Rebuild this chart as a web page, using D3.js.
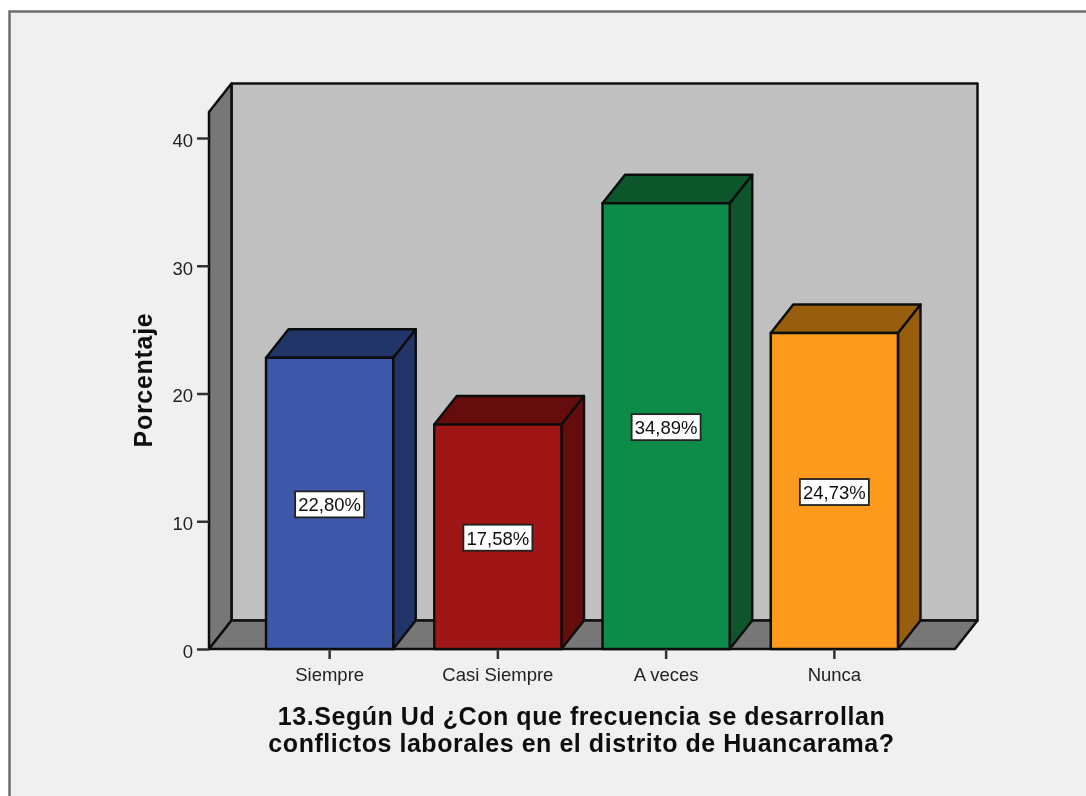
<!DOCTYPE html>
<html>
<head>
<meta charset="utf-8">
<script src="https://cdn.jsdelivr.net/npm/d3@7"></script>
<style>
html, body { margin: 0; padding: 0; background: #fff; }
svg { display: block; }
text { font-family: "Liberation Sans", Arial, sans-serif; }
</style>
</head>
<body>
<div id="container"></div>
<script>
//DATA
const categories = ['Siempre', 'Casi Siempre', 'A veces', 'Nunca']
const percentages = [22.80, 17.58, 34.89, 24.73]
const percentLabels = ['22,80%', '17,58%', '34,89%', '24,73%']
const yTicks = [0, 10, 20, 30, 40]
const frontColors = ['#3e58aa', '#a01517', '#0f8c4a', '#fb9a1e']
const darkColors = ['#233468', '#650c0e', '#08542c', '#985d11']
const xTitleLines = ['13.Según Ud ¿Con que frecuencia se desarrollan', 'conflictos laborales en el distrito de Huancarama?']

//BOX
const w = 1086
const h = 796
const left = 209
const right = 955
const floorY = 649
const depthX = 22.5
const depthY = 28.5
const topY = 112

//DEFINE SCALES
const xscale = d3.scaleBand()
    .domain(categories)
    .range([left, right])
    .paddingInner(0.244)
    .paddingOuter(0.339)

const yscale = d3.scaleLinear()
    .domain([0, 40])
    .range([floorY, 138])

const pts = p => p.map(d => d.join(',')).join(' ')

const svg = d3.select('#container')
    .append('svg')
    .attr('width', w)
    .attr('height', h)

//slight softening, the reference is an upscaled screenshot
const filter = svg.append('filter').attr('id', 'soft')
    .attr('filterUnits', 'userSpaceOnUse')
    .attr('x', 0).attr('y', 0)
    .attr('width', w).attr('height', h)
filter.append('feGaussianBlur').attr('stdDeviation', 0.6)

const root = svg.append('g').attr('filter', 'url(#soft)')

//FRAME
root.append('rect')
    .attr('x', 9.5)
    .attr('y', 11.5)
    .attr('width', w + 20)
    .attr('height', h + 20)
    .attr('fill', '#f0f0f0')
    .attr('stroke', '#6e6e6e')
    .attr('stroke-width', 2.5)

//WALLS AND FLOOR
const walls = root.append('g')
    .attr('stroke', '#111')
    .attr('stroke-width', 2.5)
    .attr('stroke-linejoin', 'round')

walls.append('polygon')
    .attr('points', pts([[left + depthX, topY - depthY], [right + depthX, topY - depthY], [right + depthX, floorY - depthY], [left + depthX, floorY - depthY]]))
    .attr('fill', '#c0c0c0')

walls.append('polygon')
    .attr('points', pts([[left, topY], [left + depthX, topY - depthY], [left + depthX, floorY - depthY], [left, floorY]]))
    .attr('fill', '#777777')

walls.append('polygon')
    .attr('points', pts([[left, floorY], [left + depthX, floorY - depthY], [right + depthX, floorY - depthY], [right, floorY]]))
    .attr('fill', '#777777')

//BARS
const bars = root.append('g')
    .selectAll('g')
    .data(categories)
    .enter()
    .append('g')
    .attr('stroke', '#111')
    .attr('stroke-width', 2.5)
    .attr('stroke-linejoin', 'round')

bars.append('polygon')
    .attr('points', (d, i) => {
        const x1 = xscale(d) + xscale.bandwidth()
        const y = yscale(percentages[i])
        return pts([[x1, y], [x1 + depthX, y - depthY], [x1 + depthX, floorY - depthY], [x1, floorY]])
    })
    .attr('fill', (d, i) => darkColors[i])

bars.append('polygon')
    .attr('points', (d, i) => {
        const x0 = xscale(d)
        const x1 = x0 + xscale.bandwidth()
        const y = yscale(percentages[i])
        return pts([[x0, y], [x0 + depthX, y - depthY], [x1 + depthX, y - depthY], [x1, y]])
    })
    .attr('fill', (d, i) => darkColors[i])

bars.append('rect')
    .attr('x', d => xscale(d))
    .attr('y', (d, i) => yscale(percentages[i]))
    .attr('width', xscale.bandwidth())
    .attr('height', (d, i) => floorY - yscale(percentages[i]))
    .attr('fill', (d, i) => frontColors[i])

//VALUE LABELS
const labels = root.append('g')
    .selectAll('g')
    .data(categories)
    .enter()
    .append('g')
    .attr('transform', (d, i) => 'translate(' + (xscale(d) + xscale.bandwidth() / 2) + ',' + (yscale(percentages[i] / 2) + 1) + ')')

labels.append('rect')
    .attr('x', -34.5)
    .attr('y', -13)
    .attr('width', 69)
    .attr('height', 26)
    .attr('fill', '#fff')
    .attr('stroke', '#222')
    .attr('stroke-width', 1.8)

labels.append('text')
    .attr('text-anchor', 'middle')
    .attr('dy', 7)
    .attr('font-size', 18.5)
    .attr('fill', '#111')
    .text((d, i) => percentLabels[i])

//GENERATE AXES
const xaxis = d3.axisBottom(xscale).tickSizeOuter(0).tickSize(10).tickPadding(8.5)
const yaxis = d3.axisLeft(yscale).tickValues(yTicks).tickSizeOuter(0).tickSize(12).tickPadding(4)

const gx = root.append('g')
    .attr('transform', 'translate(0,' + floorY + ')')
    .call(xaxis)
gx.select('.domain').remove()
gx.selectAll('line').attr('stroke', '#333').attr('stroke-width', 2.5)
gx.selectAll('text').attr('font-size', 18.5).attr('font-family', '"Liberation Sans"').attr('fill', '#222')

const gy = root.append('g')
    .attr('transform', 'translate(' + left + ',0)')
    .call(yaxis)
gy.select('.domain').remove()
gy.selectAll('line').attr('stroke', '#333').attr('stroke-width', 2.5)
gy.selectAll('text').attr('font-size', 18.5).attr('font-family', '"Liberation Sans"').attr('fill', '#222').attr('dy', '0.45em')

//AXIS TITLES
root.append('text')
    .attr('transform', 'translate(152,380) rotate(-90)')
    .attr('text-anchor', 'middle')
    .attr('font-size', 25)
    .attr('font-weight', 'bold')
    .attr('letter-spacing', 0.7)
    .attr('fill', '#111')
    .text('Porcentaje')

root.append('g')
    .selectAll('text')
    .data(xTitleLines)
    .enter()
    .append('text')
    .attr('x', 581.5)
    .attr('y', (d, i) => 725 + i * 27)
    .attr('text-anchor', 'middle')
    .attr('font-size', 25)
    .attr('font-weight', 'bold')
    .attr('letter-spacing', 0.55)
    .attr('fill', '#111')
    .text(d => d)
</script>
</body>
</html>
